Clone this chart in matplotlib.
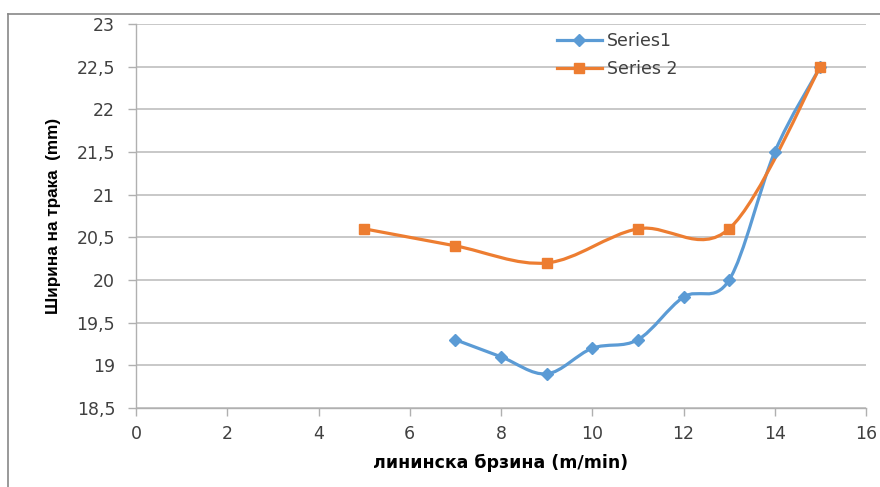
import matplotlib
matplotlib.use("Agg")
import matplotlib.pyplot as plt
from matplotlib.path import Path
from matplotlib.patches import PathPatch
from matplotlib.lines import Line2D
from matplotlib.ticker import FuncFormatter, MultipleLocator
import numpy as np

plt.rcParams['font.family'] = ['DejaVu Sans']

s1_x = [7, 8, 9, 10, 11, 12, 13, 14, 15]
s1_y = [19.3, 19.1, 18.9, 19.2, 19.3, 19.8, 20.0, 21.5, 22.5]
s2_x = [5, 7, 9, 11, 13, 15]
s2_y = [20.6, 20.4, 20.2, 20.6, 20.6, 22.5]
series_names = ["Series1", "Series 2"]
x_label = "лининска брзина (m/min)"
y_label = "Ширина на трака  (mm)"

c1 = "#5B9BD5"
c2 = "#ED7D31"

fig = plt.figure(figsize=(8.8, 4.87), dpi=100)
ax = fig.add_axes([136/880, 1-408/487, (866-136)/880, (408-24)/487])


def smooth_path(xs, ys):
    pts = np.column_stack([xs, ys]).astype(float)
    n = len(pts)
    verts = [pts[0]]
    codes = [Path.MOVETO]
    for i in range(n - 1):
        p0 = pts[i - 1] if i > 0 else pts[i]
        p1 = pts[i]
        p2 = pts[i + 1]
        p3 = pts[i + 2] if i + 2 < n else pts[i + 1]
        c_a = p1 + (p2 - p0) / 6.0
        c_b = p2 - (p3 - p1) / 6.0
        verts += [c_a, c_b, p2]
        codes += [Path.CURVE4] * 3
    return Path(verts, codes)


for xs, ys, col, mk, ms in [(s1_x, s1_y, c1, 'D', 6), (s2_x, s2_y, c2, 's', 7.5)]:
    patch = PathPatch(smooth_path(xs, ys), facecolor='none', edgecolor=col,
                      lw=2.3, capstyle='round', joinstyle='round', zorder=3)
    ax.add_patch(patch)
    ax.plot(xs, ys, linestyle='none', marker=mk, ms=ms, color=col, zorder=4)

ax.set_xlim(0, 16)
ax.set_ylim(18.5, 23)
ax.xaxis.set_major_locator(MultipleLocator(2))
ax.yaxis.set_major_locator(MultipleLocator(0.5))
fmt = FuncFormatter(lambda v, p: ("%g" % v).replace('.', ','))
ax.xaxis.set_major_formatter(fmt)
ax.yaxis.set_major_formatter(fmt)

ax.grid(axis='y', color='#c4c4c4', lw=1.3)
ax.set_axisbelow(True)
for s in ['top', 'right']:
    ax.spines[s].set_visible(False)
for s in ['left', 'bottom']:
    ax.spines[s].set_color('#b0b0b0')
    ax.spines[s].set_linewidth(1.0)
ax.tick_params(axis='both', colors='#b0b0b0', labelcolor='#404040',
               labelsize=12.5, length=6, width=1.0)
ax.tick_params(axis='x', pad=6)
ax.tick_params(axis='y', pad=9)

ax.set_xlabel(x_label, fontsize=12.5, fontweight='bold', color='#000000', labelpad=8)
ax.set_ylabel(y_label, fontsize=12.3, fontweight='bold', color='#000000', labelpad=11,
              family=['Liberation Sans', 'DejaVu Sans'])

handles = [Line2D([], [], color=c1, lw=2.3, marker='D', ms=6),
           Line2D([], [], color=c2, lw=2.3, marker='s', ms=7.5)]
leg = ax.legend(handles, series_names, loc='upper left', bbox_to_anchor=(0.555, 1.02),
                frameon=False, fontsize=12.5, labelcolor='#404040', handlelength=2.6,
                handletextpad=0.3, labelspacing=0.6)

# outer frame lines (top and left)
fig.add_artist(Line2D([8/880, 8/880], [0, 1-14/487], transform=fig.transFigure,
                      color='#888888', lw=1.2))
fig.add_artist(Line2D([8/880, 1], [1-14/487, 1-14/487], transform=fig.transFigure,
                      color='#888888', lw=1.2))

fig.savefig("out.png", dpi=100)
